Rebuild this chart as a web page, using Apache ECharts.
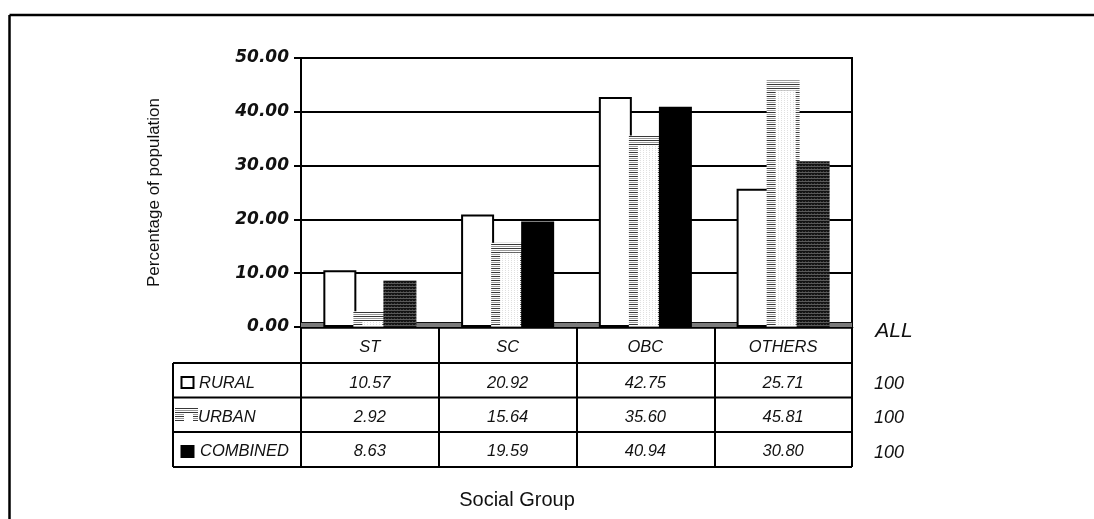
<!DOCTYPE html>
<html>
<head>
<meta charset="utf-8">
<script src="https://cdn.jsdelivr.net/npm/echarts@6/dist/echarts.min.js"></script>
<style>
html,body{margin:0;padding:0;background:#fff;}
#chart{width:1094px;height:519px;}
</style>
</head>
<body>
<div id="chart"></div>
<script>
// ---- data ----
const categories = ['ST', 'SC', 'OBC', 'OTHERS'];
const seriesNames = ['RURAL', 'URBAN', 'COMBINED'];
const rural = [10.57, 20.92, 42.75, 25.71];
const urban = [2.92, 15.64, 35.60, 45.81];
const combined = [8.63, 19.59, 40.94, 30.80];
const totalHeader = 'ALL';
const totals = [100, 100, 100];
const yMin = 0, yMax = 50, yStep = 10;
const yTitle = 'Percentage of population';
const xTitle = 'Social Group';

// ---- styles ----
const combinedFillKind = ['hatch', 'solid', 'solid', 'hatch'];
const FONT = "'Liberation Sans', Arial, sans-serif";

function makeCanvas(w, h, draw) {
  const c = document.createElement('canvas');
  c.width = w; c.height = h;
  draw(c.getContext('2d'));
  return c;
}
const urbanCanvas = makeCanvas(1, 4, ctx => {
  ctx.fillStyle = '#fff'; ctx.fillRect(0, 0, 1, 4);
  ctx.fillStyle = '#383838'; ctx.fillRect(0, 0, 1, 1);
  ctx.fillStyle = '#9a9a9a'; ctx.fillRect(0, 2, 1, 1);
});
const innerCanvas = makeCanvas(3, 2, ctx => {
  ctx.fillStyle = '#fff'; ctx.fillRect(0, 0, 3, 2);
  ctx.fillStyle = '#e0e0e0'; ctx.fillRect(1, 0, 1, 1);
});
const hatchCanvas = makeCanvas(3, 3, ctx => {
  ctx.fillStyle = '#141414'; ctx.fillRect(0, 0, 3, 3);
  ctx.fillStyle = '#5a5a5a'; ctx.fillRect(0, 1, 3, 1);
  ctx.fillStyle = '#3c3c3c'; ctx.fillRect(1, 0, 1, 1);
});
const urbanFill = { image: urbanCanvas, repeat: 'repeat' };
const hatchFill = { image: hatchCanvas, repeat: 'repeat' };

const BAR_W = 33;
const chart = echarts.init(document.getElementById('chart'), null, { renderer: 'canvas' });

const option = {
  animation: false,
  backgroundColor: '#fff',
  grid: { left: 301, right: 242, top: 58, bottom: 192, show: true, borderColor: '#000', borderWidth: 2, backgroundColor: 'transparent' },
  xAxis: {
    type: 'category',
    data: categories,
    axisLine: { show: true, lineStyle: { color: '#000', width: 2.5 } },
    axisTick: { show: true, length: 140, lineStyle: { color: '#000', width: 2 } },
    axisLabel: { color: '#111', fontFamily: FONT, fontStyle: 'italic', fontSize: 16.5, margin: 12 },
    splitLine: { show: false }
  },
  yAxis: {
    type: 'value',
    min: yMin, max: yMax, interval: yStep,
    name: yTitle,
    nameLocation: 'middle',
    nameGap: 138,
    nameRotate: 90,
    nameTextStyle: { color: '#111', fontFamily: FONT, fontSize: 17 },
    axisLine: { show: true, lineStyle: { color: '#000', width: 2 } },
    axisTick: { show: true, length: 7, lineStyle: { color: '#000', width: 2 } },
    axisLabel: {
      formatter: v => v.toFixed(2),
      color: '#111', fontFamily: "'DejaVu Sans', sans-serif", fontWeight: 'bold', fontStyle: 'italic',
      fontSize: 17, margin: 12, padding: [8, 0, 0, 0]
    },
    splitLine: { show: true, lineStyle: { color: '#000', width: 2 } }
  },
  series: [
    {
      name: seriesNames[0], type: 'bar', data: rural, barWidth: BAR_W, barGap: '-9%',
      itemStyle: { color: '#fff', borderColor: '#000', borderWidth: 2 }
    },
    {
      name: seriesNames[1], type: 'bar', data: urban, barWidth: BAR_W, barGap: '-9%',
      itemStyle: { color: urbanFill, borderWidth: 0 }
    },
    {
      name: seriesNames[2], type: 'bar', barWidth: BAR_W, barGap: '-9%',
      data: combined.map((v, i) => ({ value: v, itemStyle: { color: combinedFillKind[i] === 'hatch' ? hatchFill : '#000' } })),
      itemStyle: { borderWidth: 0 }
    },
    {
      name: seriesNames[1] + '-inner', type: 'custom', z: 5,
      data: urban.map((v, i) => [i, v]),
      encode: { x: 0, y: 1 },
      renderItem: (params, api) => {
        const i = api.value(0), v = api.value(1);
        const top = api.coord([i, v]);
        const base = api.coord([i, 0]);
        const x0 = top[0] - BAR_W / 2 + 9;
        const x1 = top[0] + BAR_W / 2 - 4;
        const y0 = top[1] + 10;
        const y1 = base[1] - 2;
        if (y0 >= y1) return null;
        return {
          type: 'rect',
          shape: { x: x0, y: y0, width: x1 - x0, height: y1 - y0 },
          style: { fill: { image: innerCanvas, repeat: 'repeat' } }
        };
      }
    }
  ]
};
chart.setOption(option);

// ---- table, floor, titles, frame (positions derived from axes) ----
const p0 = chart.convertToPixel({ gridIndex: 0 }, [0, 0]);
const p1 = chart.convertToPixel({ gridIndex: 0 }, [1, 0]);
const band = p1[0] - p0[0];
const centers = categories.map((c, i) => chart.convertToPixel({ gridIndex: 0 }, [i, 0])[0]);
const yZero = p0[1];
const xLeftAxis = centers[0] - band / 2;
const xRightAxis = centers[centers.length - 1] + band / 2;
const tableLeft = 173;
const rowLines = [363, 397.5, 432, 467];
const rowCenters = [383, 417, 451.5];
const totalsX = 889;

const els = [];
// frame
els.push({ type: 'line', shape: { x1: 9.5, y1: 15, x2: 1094, y2: 15 }, style: { stroke: '#000', lineWidth: 2.5 }, z: 10 });
els.push({ type: 'line', shape: { x1: 9.5, y1: 15, x2: 9.5, y2: 519 }, style: { stroke: '#000', lineWidth: 2.5 }, z: 10 });
// floor
els.push({ type: 'rect', shape: { x: xLeftAxis, y: yZero - 5, width: xRightAxis - xLeftAxis, height: 5 }, style: { fill: '#7a7a7a' }, z: 1 });
els.push({ type: 'line', shape: { x1: xLeftAxis, y1: yZero - 4.5, x2: xRightAxis, y2: yZero - 4.5 }, style: { stroke: '#111', lineWidth: 1 }, z: 1 });
// table horizontal lines
rowLines.forEach(y => {
  els.push({ type: 'line', shape: { x1: tableLeft, y1: y, x2: xRightAxis, y2: y }, style: { stroke: '#000', lineWidth: 2 }, z: 10 });
});
els.push({ type: 'line', shape: { x1: tableLeft, y1: rowLines[0], x2: tableLeft, y2: rowLines[rowLines.length - 1] }, style: { stroke: '#000', lineWidth: 2 }, z: 10 });
// legend keys
const yc = rowCenters;
els.push({ type: 'rect', shape: { x: 181.5, y: yc[0] - 6, width: 12, height: 11 }, style: { fill: '#fff', stroke: '#000', lineWidth: 2 }, z: 10 });
els.push({ type: 'rect', shape: { x: 175, y: yc[1] - 9, width: 23, height: 13 }, style: { fill: urbanFill }, z: 10 });
els.push({ type: 'rect', shape: { x: 184, y: yc[1] - 3, width: 9, height: 7 }, style: { fill: '#fff' }, z: 10 });
els.push({ type: 'rect', shape: { x: 180.5, y: yc[2] - 6.5, width: 14, height: 13 }, style: { fill: '#000' }, z: 10 });
const textStyle = (extra) => Object.assign({ fill: '#111', fontFamily: FONT, fontStyle: 'italic', fontSize: 16.5, textVerticalAlign: 'middle' }, extra);
const rowLabelX = [199, 198, 200];
seriesNames.forEach((n, r) => {
  els.push({ type: 'text', x: rowLabelX[r], y: yc[r], style: textStyle({ text: n, textAlign: 'left' }), z: 10 });
});
const rows = [rural, urban, combined];
rows.forEach((arr, r) => {
  arr.forEach((v, i) => {
    els.push({ type: 'text', x: centers[i], y: yc[r], style: textStyle({ text: v.toFixed(2), textAlign: 'center' }), z: 10 });
  });
  els.push({ type: 'text', x: totalsX, y: yc[r] + 1, style: textStyle({ text: String(totals[r]), textAlign: 'center', fontSize: 18 }), z: 10 });
});
els.push({ type: 'text', x: 894, y: 331, style: { text: totalHeader, fill: '#111', fontFamily: FONT, fontStyle: 'italic', fontSize: 21, textAlign: 'center', textVerticalAlign: 'middle' }, z: 10 });
// x title
els.push({ type: 'text', x: 517, y: 500, style: { text: xTitle, fill: '#111', fontFamily: FONT, fontSize: 20, textAlign: 'center', textVerticalAlign: 'middle' }, z: 10 });

chart.setOption({ graphic: { elements: els } });
</script>
</body>
</html>
